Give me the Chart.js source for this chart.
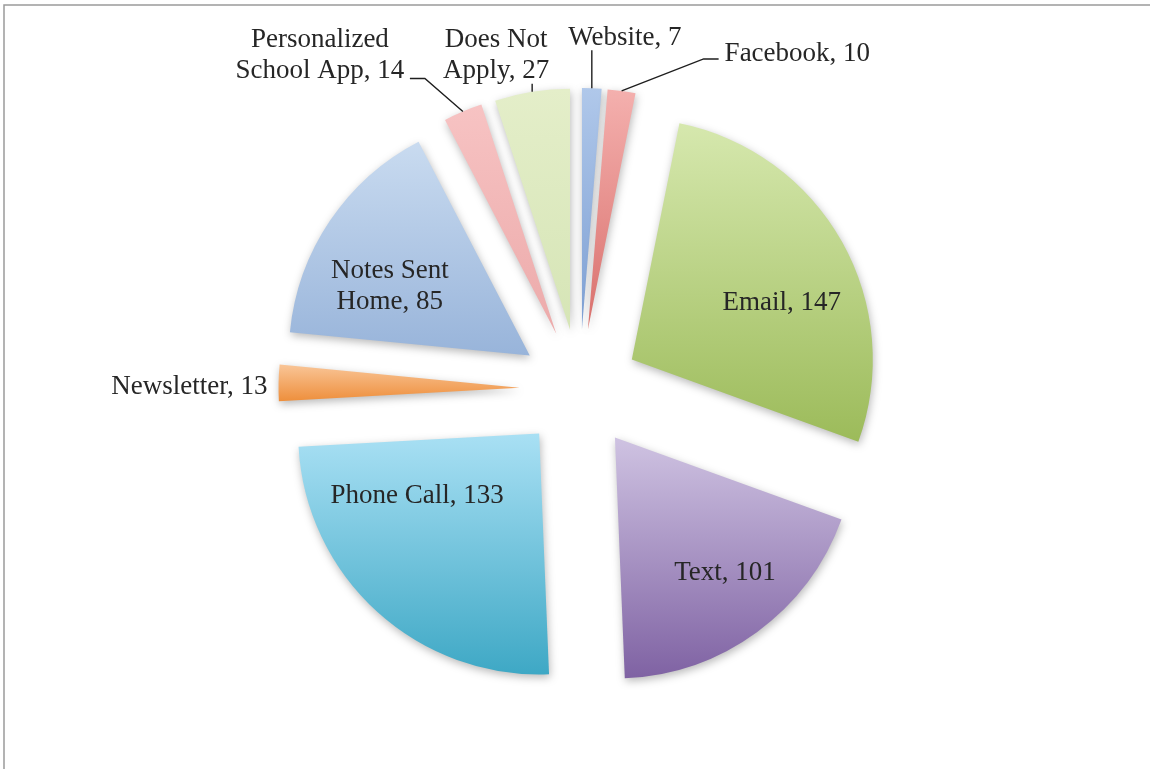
<!DOCTYPE html>
<html>
<head>
<meta charset="utf-8">
<script src="https://cdn.jsdelivr.net/npm/chart.js@4/dist/chart.umd.min.js"></script>
<style>
  html, body { margin: 0; padding: 0; background: #fff; }
</style>
</head>
<body>
<canvas id="pieChart" width="1151" height="769"></canvas>
<script>
// ── Data ───────────────────────────────────────────────────────
const categories = ["Website", "Facebook", "Email", "Text", "Phone Call", "Newsletter",
  "Notes Sent Home", "Personalized School App", "Does Not Apply"];
const counts = [7, 10, 147, 101, 133, 13, 85, 14, 27];

// ── Look ───────────────────────────────────────────────────────
// Office-style vertical gradient per slice: light at the top, base colour at the bottom
const topColors = ["#b0c8ea", "#f4b0ae", "#d6e8ae", "#cfc3e2", "#a9e0f4", "#f9c597", "#c9dbf0", "#f7c3c3", "#e4eec9"];
const bottomColors = ["#7d9fd3", "#d9706c", "#9cbb5a", "#7f62a3", "#3ea8c5", "#ee8f3c", "#98b4da", "#ecaaaa", "#d6e5b6"];

const RADIUS = 241;
const EXPLODE = 60;
const FONT = '27px "Liberation Serif", "Times New Roman", serif';
const LINE_H = 31;
const TEXT_COLOR = "#262626";

// Label placement. "in" labels sit relative to the slice tip, "out" labels
// relative to the middle of the slice's outer edge, with an optional leader.
const labelLayout = [
  { where: "out", dx: 33, dy: -50, align: "center", leader: [[0, -38]] },
  { where: "out", dx: 103, dy: -37, align: "left", leader: [[82, -32], [97, -32]] },
  { where: "in", dx: 150, dy: -57, align: "center" },
  { where: "in", dx: 110, dy: 135, align: "center" },
  { where: "in", dx: -122, dy: 62, align: "center" },
  { where: "out", dx: -11, dy: 4, align: "right" },
  { where: "in", dx: -140, dy: -85, align: "center", split: 2 },
  { where: "out", dx: -143, dy: -72, align: "center", split: 1, leader: [[-38, -33], [-53, -33]] },
  { where: "out", dx: -36, dy: -52, align: "center", split: 2, leader: [[0, -8]] },
];

const total = counts.reduce((a, b) => a + b, 0);

function sliceGradient(context) {
  const i = context.dataIndex;
  const area = context.chart.chartArea;
  if (i === undefined) return topColors[0];
  if (!area) return topColors[i];
  const cx = (area.left + area.right) / 2;
  const cy = (area.top + area.bottom) / 2;
  const before = counts.slice(0, i).reduce((a, b) => a + b, 0);
  const a0 = -Math.PI / 2 + (before / total) * 2 * Math.PI;
  const a1 = a0 + (counts[i] / total) * 2 * Math.PI;
  const ys = [cy, cy + RADIUS * Math.sin(a0), cy + RADIUS * Math.sin(a1)];
  if (a0 < Math.PI / 2 && a1 > Math.PI / 2) ys.push(cy + RADIUS);
  const g = context.chart.ctx.createLinearGradient(0, Math.min(...ys), 0, Math.max(...ys));
  g.addColorStop(0, topColors[i]);
  g.addColorStop(1, bottomColors[i]);
  return g;
}

function labelLines(i) {
  const text = `${categories[i]}, ${counts[i]}`;
  const spec = labelLayout[i];
  if (!spec.split) return [text];
  const words = text.split(" ");
  return [words.slice(0, spec.split).join(" "), words.slice(spec.split).join(" ")];
}

// Every slice is pulled out by the same distance (the built-in offset
// grows small slices' radius, so the translation is done here instead).
const explodePlugin = {
  id: "explode",
  beforeDatasetsDraw(chart) {
    const c = chart.ctx;
    chart.getDatasetMeta(0).data.forEach((arc) => {
      const mid = (arc.startAngle + arc.endAngle) / 2;
      c.save();
      c.shadowColor = "rgba(0,0,0,0.28)";
      c.shadowBlur = 8;
      c.shadowOffsetX = 1;
      c.shadowOffsetY = 3;
      c.translate(Math.cos(mid) * EXPLODE, Math.sin(mid) * EXPLODE);
      arc.draw(c);
      c.restore();
    });
    return false;
  },
  afterDraw(chart) {
    const c = chart.ctx;
    c.save();
    c.font = FONT;
    c.fillStyle = TEXT_COLOR;
    c.strokeStyle = "#1e1e1e";
    c.lineWidth = 1.4;
    c.textBaseline = "middle";
    chart.getDatasetMeta(0).data.forEach((arc, i) => {
      const spec = labelLayout[i];
      const mid = (arc.startAngle + arc.endAngle) / 2;
      const tipX = arc.x + Math.cos(mid) * EXPLODE;
      const tipY = arc.y + Math.sin(mid) * EXPLODE;
      let ax = tipX, ay = tipY;
      if (spec.where === "out") {
        ax = tipX + Math.cos(mid) * arc.outerRadius;
        ay = tipY + Math.sin(mid) * arc.outerRadius;
      }
      if (spec.leader) {
        c.beginPath();
        c.moveTo(ax, ay);
        spec.leader.forEach(([lx, ly]) => c.lineTo(ax + lx, ay + ly));
        c.stroke();
      }
      const lines = labelLines(i);
      c.textAlign = spec.align;
      lines.forEach((line, k) => {
        c.fillText(line, ax + spec.dx, ay + spec.dy + k * LINE_H);
      });
    });
    c.restore();
  },
  beforeDraw(chart) {
    // thin grey frame on the top and left edges
    const c = chart.ctx;
    c.save();
    c.strokeStyle = "#9b9b9b";
    c.lineWidth = 1.5;
    c.beginPath();
    c.moveTo(4, chart.height);
    c.lineTo(4, 5);
    c.lineTo(chart.width - 1, 5);
    c.stroke();
    c.restore();
  },
};

new Chart(document.getElementById("pieChart"), {
  type: "pie",
  data: {
    labels: categories,
    datasets: [{
      data: counts,
      backgroundColor: sliceGradient,
      borderWidth: 0,
    }],
  },
  options: {
    responsive: false,
    animation: false,
    events: [],
    radius: RADIUS,
    layout: { padding: { left: 8, top: 9, right: 0, bottom: 0 } },
    plugins: { legend: { display: false }, tooltip: { enabled: false } },
  },
  plugins: [explodePlugin],
});
</script>
</body>
</html>
